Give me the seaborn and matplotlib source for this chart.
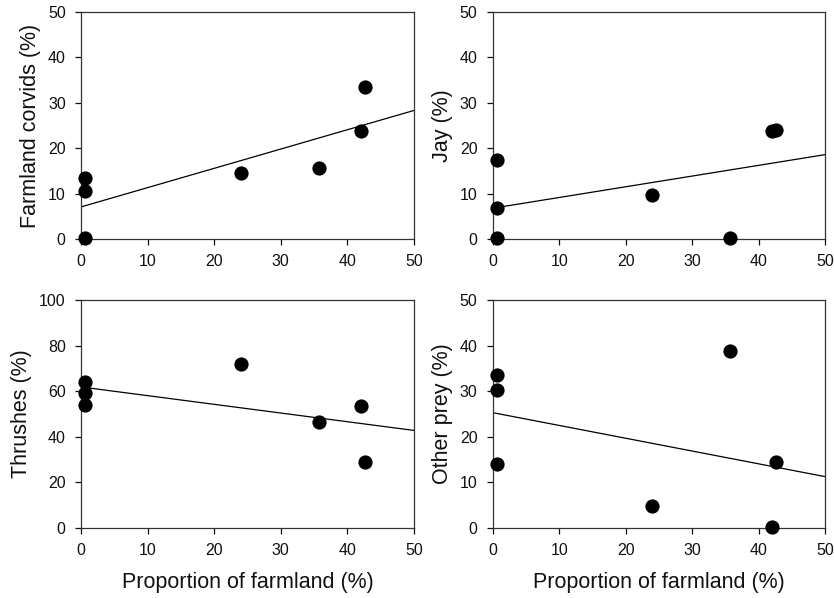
import matplotlib
matplotlib.use("Agg")
import matplotlib.pyplot as plt
import pandas as pd
import seaborn as sns

# proportion of farmland at each site (%)
farmland = [0.6, 0.6, 0.6, 24.0, 35.7, 42.1, 42.6]

# diet composition (%) per site
farmland_corvids = [13.5, 10.6, 0.2, 14.5, 15.6, 23.7, 33.5]
jay = [17.4, 6.8, 0.2, 9.7, 0.2, 23.7, 24.0]
thrushes = [53.8, 63.8, 59.0, 71.8, 46.5, 53.3, 29.0]
other_prey = [14.0, 33.5, 30.2, 4.9, 38.7, 0.2, 14.5]

panels = [
    ("Farmland corvids (%)", farmland_corvids, 50),
    ("Jay (%)", jay, 50),
    ("Thrushes (%)", thrushes, 100),
    ("Other prey (%)", other_prey, 50),
]

sns.set_style("ticks")
plt.rcParams["font.family"] = ["Liberation Sans", "DejaVu Sans"]
plt.rcParams["axes.labelcolor"] = "#111111"
plt.rcParams["text.color"] = "#111111"

fig = plt.figure(figsize=(8.34, 5.98), dpi=100)
boxes = [
    [0.0971, 0.6003, 0.3993, 0.3797],
    [0.5910, 0.6003, 0.3981, 0.3797],
    [0.0971, 0.1171, 0.3993, 0.3813],
    [0.5910, 0.1171, 0.3981, 0.3813],
]

for i, ((label, values, ymax), box) in enumerate(zip(panels, boxes)):
    ax = fig.add_axes(box)
    df = pd.DataFrame({"farmland": farmland, "value": values})
    # regplot extends the fitted line to the current x limits
    ax.set_xlim(0, 50)
    ax.set_ylim(0, ymax)
    sns.regplot(
        data=df, x="farmland", y="value", ax=ax, ci=None, truncate=False,
        scatter_kws={"s": 105, "color": "black", "alpha": 1, "linewidths": 0, "zorder": 3, "clip_on": False},
        line_kws={"color": "black", "lw": 0.9},
    )
    ax.set_xlim(0, 50)
    ax.set_ylim(0, ymax)
    ax.set_xticks(range(0, 51, 10))
    ax.set_yticks(range(0, ymax + 1, ymax // 5))
    ax.tick_params(direction="out", length=4, width=0.9, labelsize=11.5, colors="#111111", pad=7)
    for sp in ax.spines.values():
        sp.set_color("#333333")
        sp.set_linewidth(0.9)
    ax.set_ylabel(label, fontsize=15.5, labelpad=5)
    if i >= 2:
        ax.set_xlabel("Proportion of farmland (%)", fontsize=15.5, labelpad=10)
    else:
        ax.set_xlabel("")

fig.savefig("out.png", dpi=100)
